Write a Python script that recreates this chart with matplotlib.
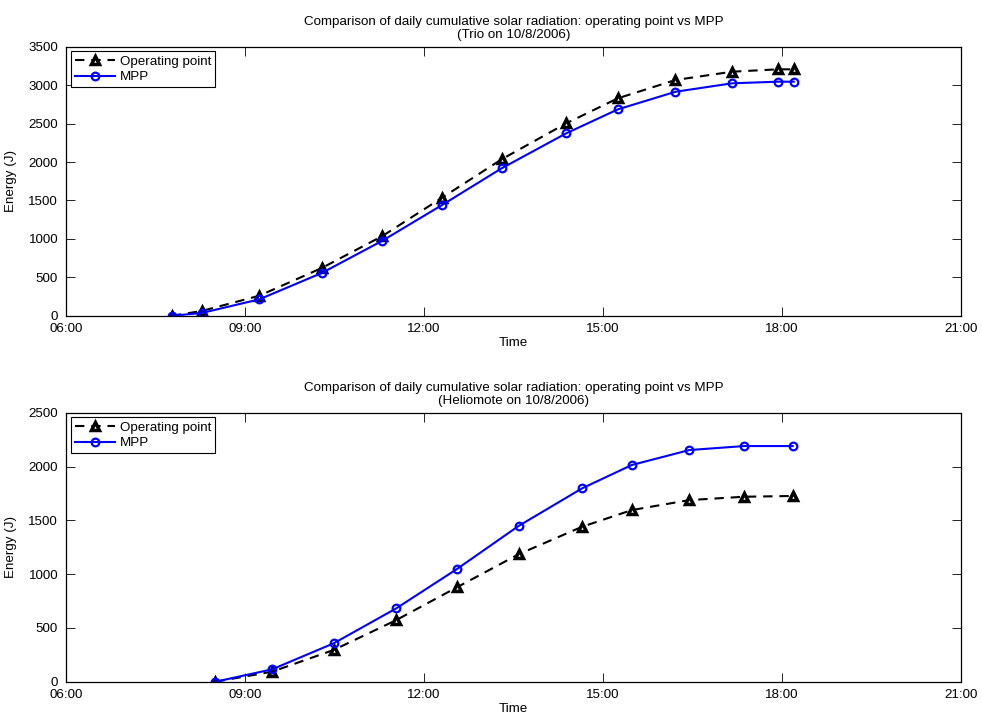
import matplotlib
matplotlib.use("Agg")
import matplotlib.pyplot as plt
from matplotlib.ticker import FixedLocator

plt.rcParams['font.family'] = ['Liberation Sans', 'DejaVu Sans']

# ---- data ----
trio_times = ["07:46", "08:16", "09:14", "10:17", "11:18", "12:18", "13:18",
              "14:23", "15:15", "16:13", "17:10", "17:56", "18:12"]
trio_operating = [0, 61, 260, 621, 1037, 1535, 2035, 2503, 2829, 3067, 3175, 3206, 3206]
trio_mpp = [0, 35, 213, 556, 976, 1440, 1918, 2373, 2685, 2914, 3024, 3045, 3045]

helio_times = ["08:30", "09:27", "10:29", "11:32", "12:33", "13:35", "14:39",
               "15:29", "16:27", "17:22", "18:11"]
helio_operating = [0, 93, 295, 573, 877, 1184, 1440, 1595, 1688, 1719, 1726]
helio_mpp = [0, 115, 357, 682, 1047, 1447, 1797, 2014, 2153, 2190, 2190]

xtick_labels = ["06:00", "09:00", "12:00", "15:00", "18:00", "21:00"]
titles = ["Comparison of daily cumulative solar radiation: operating point vs MPP\n(Trio on 10/8/2006)",
          "Comparison of daily cumulative solar radiation: operating point vs MPP\n(Heliomote on 10/8/2006)"]
ymax = [3500, 2500]


def to_hours(t):
    h, m = t.split(":")
    return int(h) + int(m) / 60.0


fig = plt.figure(figsize=(9.82, 7.21), dpi=100)
ax1 = fig.add_axes([0.0677, 0.5621, 0.9105, 0.3731])
ax2 = fig.add_axes([0.0677, 0.0545, 0.9105, 0.3731])

datasets = [(trio_times, trio_operating, trio_mpp), (helio_times, helio_operating, helio_mpp)]
xt = [to_hours(t) for t in xtick_labels]
FS = 9.6

for ax, (times, op, mpp), title, ym in zip([ax1, ax2], datasets, titles, ymax):
    x = [to_hours(t) for t in times]
    ax.plot(x, op, linestyle=(0, (4.5, 3.3)), color='black', linewidth=1.5,
            marker='^', markersize=5.5, markerfacecolor='white', markeredgecolor='black',
            markeredgewidth=2.5, label='Operating point')
    ax.plot(x, mpp, linestyle='-', color='blue', linewidth=1.5,
            marker='o', markersize=5.5, markerfacecolor='none', markeredgecolor='blue',
            markeredgewidth=1.6, label='MPP')
    ax.set_xlim(xt[0], xt[-1])
    ax.set_ylim(0, ym)
    ax.xaxis.set_major_locator(FixedLocator(xt))
    ax.set_xticklabels(xtick_labels)
    ax.set_yticks(list(range(0, ym + 1, 500)))
    ax.tick_params(direction='in', length=6.5, width=0.6, top=True, right=True,
                   labelsize=FS)
    ax.tick_params(axis='y', pad=6)
    ax.tick_params(axis='x', pad=5)
    for s in ax.spines.values():
        s.set_linewidth(0.9)
    ax.set_xlabel('Time', fontsize=FS, labelpad=2)
    ax.set_ylabel('Energy (J)', fontsize=FS, labelpad=8)
    ax.set_title(title, fontsize=FS, pad=6, linespacing=1.15)
    leg = ax.legend(loc='upper left', fontsize=FS, handlelength=3.0, handletextpad=0.35,
                    borderpad=0.3, labelspacing=0.25, borderaxespad=0.35,
                    fancybox=False, framealpha=1)
    leg.get_frame().set_edgecolor('black')
    leg.get_frame().set_linewidth(0.8)

fig.savefig('out.png', dpi=100)
